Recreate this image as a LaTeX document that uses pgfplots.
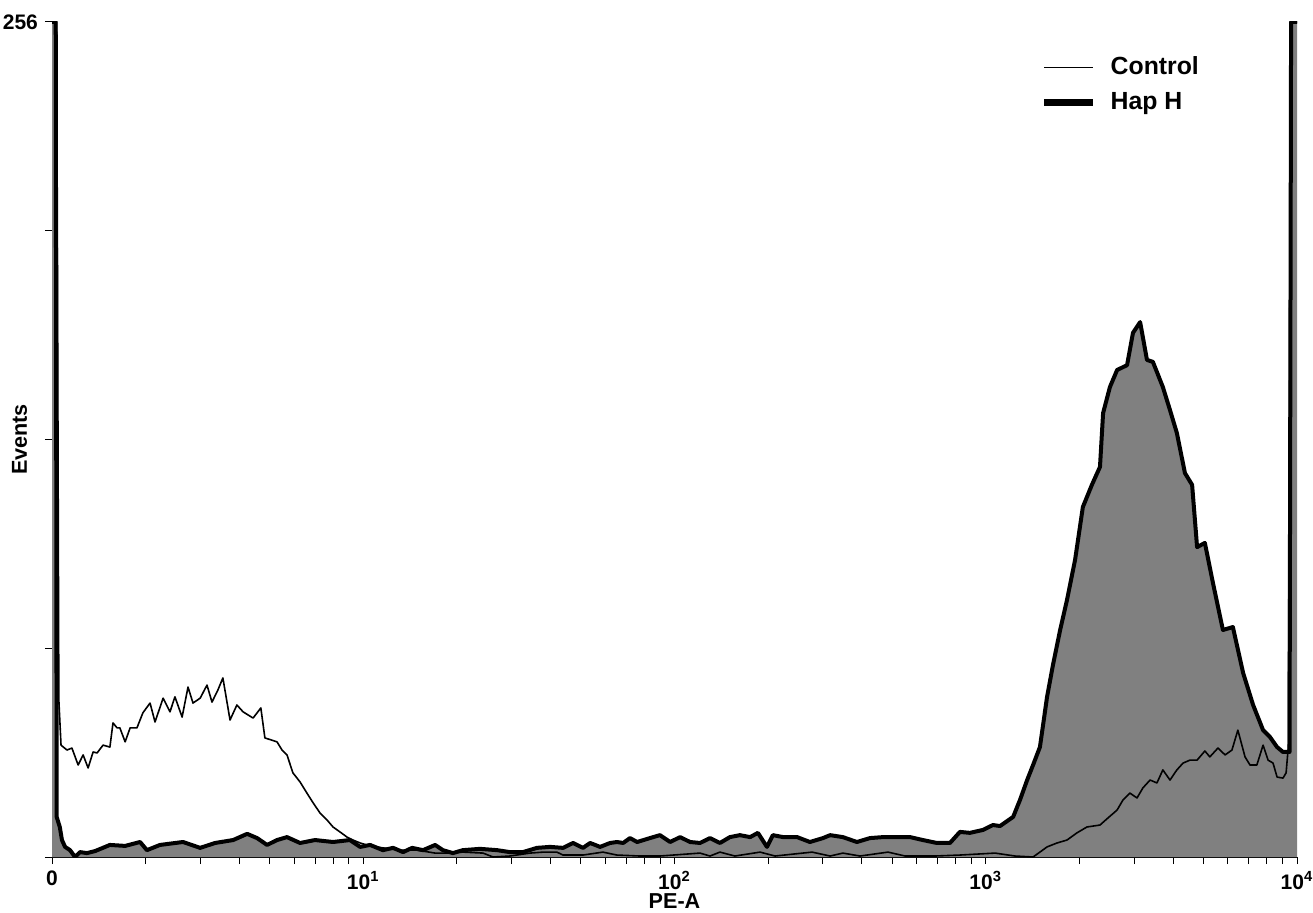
\documentclass[border=0pt]{standalone}
\usepackage{pgfplots}
\pgfplotsset{compat=1.18}
\usepackage{pgfplotstable}
\usepackage{fontspec}
\setmainfont{Liberation Sans}

\definecolor{fillgray}{RGB}{128,128,128}

% x in decades (0 = first channel, 4 = 10^4), y in events
\pgfplotstableread{
x y
0.000 256
0.012 256
0.015 12.3
0.025 9.2
0.032 5.2
0.042 3.1
0.058 2.1
0.074 0.0
0.090 1.5
0.112 1.2
0.138 1.8
0.186 3.7
0.235 3.4
0.283 4.6
0.305 2.1
0.347 3.7
0.421 4.6
0.476 2.8
0.524 4.3
0.582 5.2
0.627 7.1
0.659 5.8
0.691 3.7
0.723 5.2
0.755 6.1
0.797 4.3
0.845 5.2
0.903 4.6
0.957 5.2
0.990 3.1
1.022 3.7
1.063 2.1
1.096 2.8
1.128 1.5
1.157 2.8
1.192 2.1
1.231 3.7
1.256 2.1
1.288 1.2
1.320 2.1
1.375 2.5
1.430 2.1
1.471 1.5
1.513 1.5
1.558 2.8
1.600 3.1
1.642 2.8
1.674 4.3
1.706 2.8
1.729 4.3
1.761 3.1
1.793 4.3
1.815 4.6
1.835 4.3
1.857 5.8
1.880 4.6
1.921 5.8
1.953 6.7
1.986 4.6
2.018 6.1
2.050 4.6
2.082 4.3
2.114 5.8
2.146 4.3
2.178 6.1
2.210 6.7
2.243 6.1
2.268 7.4
2.297 3.1
2.316 6.7
2.349 6.1
2.394 6.1
2.435 4.6
2.477 5.8
2.500 6.7
2.541 6.1
2.586 4.6
2.628 5.8
2.670 6.1
2.715 6.1
2.757 6.1
2.798 5.2
2.843 4.3
2.885 4.3
2.917 7.7
2.949 7.4
2.991 8.3
3.023 9.8
3.046 9.5
3.088 12.3
3.110 17.5
3.133 23.6
3.152 28.2
3.174 33.7
3.197 49.1
3.216 58.9
3.239 69.6
3.261 78.8
3.287 91.1
3.312 107.3
3.341 114.1
3.367 119.6
3.377 136.1
3.399 144.1
3.422 149.3
3.454 150.8
3.473 160.7
3.496 164.0
3.518 152.4
3.537 151.8
3.569 144.1
3.592 137.0
3.614 130.0
3.640 117.7
3.663 114.1
3.679 95.0
3.704 96.3
3.730 84.0
3.762 69.6
3.794 70.5
3.827 56.4
3.859 46.6
3.891 38.9
3.913 36.8
3.936 33.7
3.955 32.2
3.976 32.2
3.981 256
4.000 256
}\haph

\pgfplotstableread{
x y
0.000 256
0.015 256
0.022 48.1
0.029 34.3
0.048 32.8
0.064 33.4
0.084 28.2
0.100 31.3
0.116 27.3
0.132 32.2
0.145 31.9
0.164 34.3
0.186 33.7
0.196 41.1
0.209 39.6
0.218 39.6
0.235 35.3
0.251 39.6
0.273 39.6
0.292 44.2
0.315 47.2
0.331 41.4
0.357 48.7
0.379 44.5
0.395 49.1
0.418 42.9
0.437 52.1
0.453 47.2
0.476 48.7
0.498 52.7
0.514 47.5
0.533 51.2
0.549 54.9
0.572 42.0
0.594 46.6
0.614 44.5
0.646 42.6
0.671 45.7
0.684 36.5
0.704 35.9
0.723 35.3
0.739 32.8
0.755 31.3
0.774 25.8
0.797 23.0
0.819 19.6
0.839 16.6
0.861 13.5
0.884 11.3
0.903 9.2
0.925 7.7
0.948 6.1
0.967 5.2
0.990 4.3
1.022 3.4
1.063 2.8
1.118 2.1
1.173 2.1
1.231 1.2
1.279 1.2
1.320 1.5
1.385 1.2
1.417 0.0
1.471 0.3
1.536 1.2
1.578 1.5
1.622 1.5
1.642 0.6
1.706 0.6
1.770 1.5
1.815 0.6
1.889 0.3
1.953 0.3
2.082 1.2
2.114 0.3
2.146 1.5
2.194 0.3
2.275 1.5
2.323 0.3
2.442 1.5
2.500 0.3
2.541 1.2
2.596 0.3
2.686 1.5
2.741 0.3
2.837 0.3
2.917 0.6
3.030 1.2
3.094 0.3
3.152 0.0
3.174 1.5
3.197 3.1
3.229 4.3
3.261 5.2
3.293 7.4
3.325 9.2
3.367 9.8
3.393 12.0
3.422 14.4
3.441 17.5
3.463 19.6
3.486 18.1
3.505 21.2
3.528 23.6
3.550 22.7
3.569 26.7
3.592 23.6
3.614 26.7
3.634 28.8
3.656 29.7
3.679 29.7
3.704 32.5
3.720 30.7
3.746 33.4
3.769 31.3
3.791 32.8
3.810 38.9
3.833 30.7
3.849 28.2
3.871 28.2
3.891 34.3
3.907 29.7
3.923 28.8
3.936 24.5
3.955 24.2
3.965 25.8
3.972 33.7
3.980 256
4.000 256
}\ctrl

\begin{document}
\begin{tikzpicture}
\begin{axis}[
    scale only axis,
    width=622.5pt, height=417.5pt,
    xmin=0, xmax=4, ymin=0, ymax=256,
    axis x line=bottom, axis y line=left,
    axis line style={-, black},
    x axis line style={line width=1pt},
    y axis line style={line width=0.5pt},
    tick align=outside,
    major tick length=3.5pt, minor tick length=3.5pt,
    tick style={black, line width=0.5pt},
    xtick={0,1,2,3,4},
    xticklabels={0,10\textsuperscript{1},10\textsuperscript{2},10\textsuperscript{3},10\textsuperscript{4}},
    minor xtick={0.301,0.477,0.602,0.699,0.778,0.845,0.903,0.954,
                 1.301,1.477,1.602,1.699,1.778,1.845,1.903,1.954,
                 2.301,2.477,2.602,2.699,2.778,2.845,2.903,2.954,
                 3.301,3.477,3.602,3.699,3.778,3.845,3.903,3.954},
    ytick={0,64,128,192,256},
    yticklabels={,,,,256},
    ticklabel style={font=\bfseries\fontsize{10.5}{12}\selectfont},
    xlabel={\textbf{PE-A}},
    ylabel={\textbf{Events}},
    label style={font=\bfseries\fontsize{10.8}{12}\selectfont},
    xlabel style={at={(axis description cs:0.5,-0.053)}, anchor=center},
    ylabel style={at={(axis description cs:-0.026,0.5)}, anchor=center},
    legend style={draw=none, fill=none, at={(axis description cs:0.789,0.966)},
        anchor=north west, font=\bfseries\fontsize{12.4}{14}\selectfont,
        row sep=5.5pt, nodes={inner sep=1pt}},
    legend cell align=left,
    /tikz/every odd column/.append style={column sep=6pt},
    legend image code/.code={\draw[#1] (0pt,0pt) -- (24.5pt,0pt);},
]
\addplot[draw=none, fill=fillgray, forget plot] table {\haph} \closedcycle;
\addplot[black, line width=0.8pt, line join=round, forget plot] table {\ctrl};
\addplot[black, line width=2pt, line join=round, forget plot] table {\haph};
\addlegendimage{black, line width=0.7pt}
\addlegendentry{Control}
\addlegendimage{black, line width=3.5pt}
\addlegendentry{Hap H}
\end{axis}
\pgfresetboundingbox
\path[use as bounding box] (-26pt,-27.5pt) rectangle (630.5pt,428.5pt);
\end{tikzpicture}
\end{document}
